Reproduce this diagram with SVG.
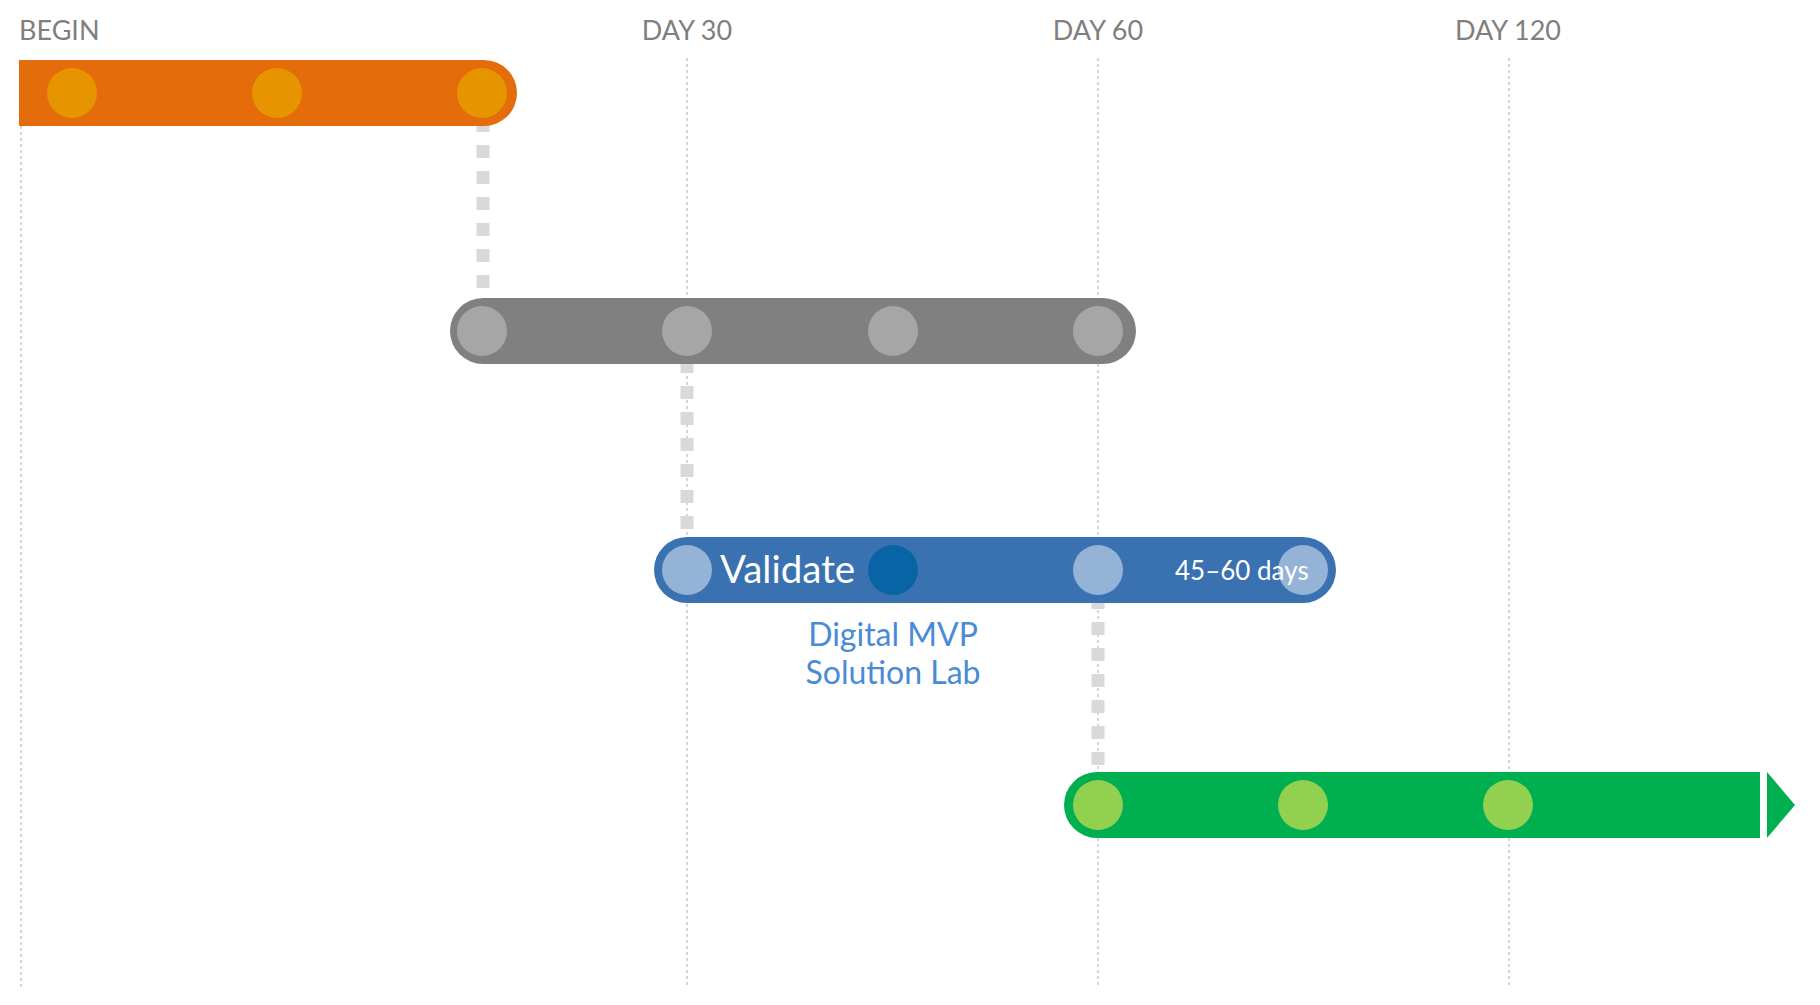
<svg xmlns="http://www.w3.org/2000/svg" width="1820" height="1005" viewBox="0 0 1820 1005">
<style>
.hdr{font-family:Lato,"Open Sans","Liberation Sans",sans-serif;font-size:27px;fill:#7F7F7F}
.grid{stroke:#D6D6D6;stroke-width:2;stroke-dasharray:3 3;fill:none}
.link{stroke:#D9D9D9;stroke-width:13;stroke-dasharray:13 13;fill:none}
.wt{font-family:Lato,"Open Sans","Liberation Sans",sans-serif;fill:#FFFFFF}
.lab{font-family:Lato,"Open Sans","Liberation Sans",sans-serif;font-size:32px;fill:#4A8AD6}
</style>
<rect width="1820" height="1005" fill="#FFFFFF"/>
<g id="axis">
<text class="hdr" x="19" y="40">BEGIN</text>
<text class="hdr" x="687" y="40" text-anchor="middle">DAY 30</text>
<text class="hdr" x="1098" y="40" text-anchor="middle">DAY 60</text>
<text class="hdr" x="1508" y="40" text-anchor="middle">DAY 120</text>
<line class="grid" x1="21" y1="126" x2="21" y2="988"/>
<line class="grid" x1="687" y1="58" x2="687" y2="988"/>
<line class="grid" x1="1098" y1="58" x2="1098" y2="988"/>
<line class="grid" x1="1509" y1="58" x2="1509" y2="988"/>
</g>
<g id="connectors">
<line class="link" x1="483" y1="119" x2="483" y2="288"/>
<line class="link" x1="687" y1="360" x2="687" y2="529"/>
<line class="link" x1="1098" y1="596" x2="1098" y2="765"/>
</g>
<g id="phase1">
<path d="M19 60 H484 A33 33 0 0 1 484 126 H19 Z" fill="#E46C0A"/>
<circle cx="72" cy="93" r="25" fill="#E69500"/>
<circle cx="277" cy="93" r="25" fill="#E69500"/>
<circle cx="482" cy="93" r="25" fill="#E69500"/>
</g>
<g id="phase2">
<rect x="450" y="298" width="686" height="66" rx="33" fill="#808080"/>
<circle cx="482" cy="331" r="25" fill="#A6A6A6"/>
<circle cx="687" cy="331" r="25" fill="#A6A6A6"/>
<circle cx="893" cy="331" r="25" fill="#A6A6A6"/>
<circle cx="1098" cy="331" r="25" fill="#A6A6A6"/>
</g>
<g id="phase3">
<rect x="654" y="537" width="682" height="66" rx="33" fill="#3A71B1"/>
<circle cx="687" cy="570" r="25" fill="#95B3D7"/>
<circle cx="893" cy="570" r="25" fill="#0864A5"/>
<circle cx="1098" cy="570" r="25" fill="#95B3D7"/>
<circle cx="1303" cy="570" r="25" fill="#95B3D7"/>
<text class="wt" x="720" y="583" font-size="38.5">Validate</text>
<text class="wt" x="1175" y="580" font-size="26">45–60 days</text>
<text class="lab" x="893" y="646" text-anchor="middle">Digital MVP</text>
<text class="lab" x="893" y="684" text-anchor="middle">Solution Lab</text>
</g>
<g id="phase4">
<path d="M1760 772 V838 H1097 A33 33 0 0 1 1097 772 Z" fill="#00B050"/>
<polygon points="1767,772 1795,805 1767,838" fill="#00B050"/>
<circle cx="1098" cy="805" r="25" fill="#92D050"/>
<circle cx="1303" cy="805" r="25" fill="#92D050"/>
<circle cx="1508" cy="805" r="25" fill="#92D050"/>
</g>
</svg>
